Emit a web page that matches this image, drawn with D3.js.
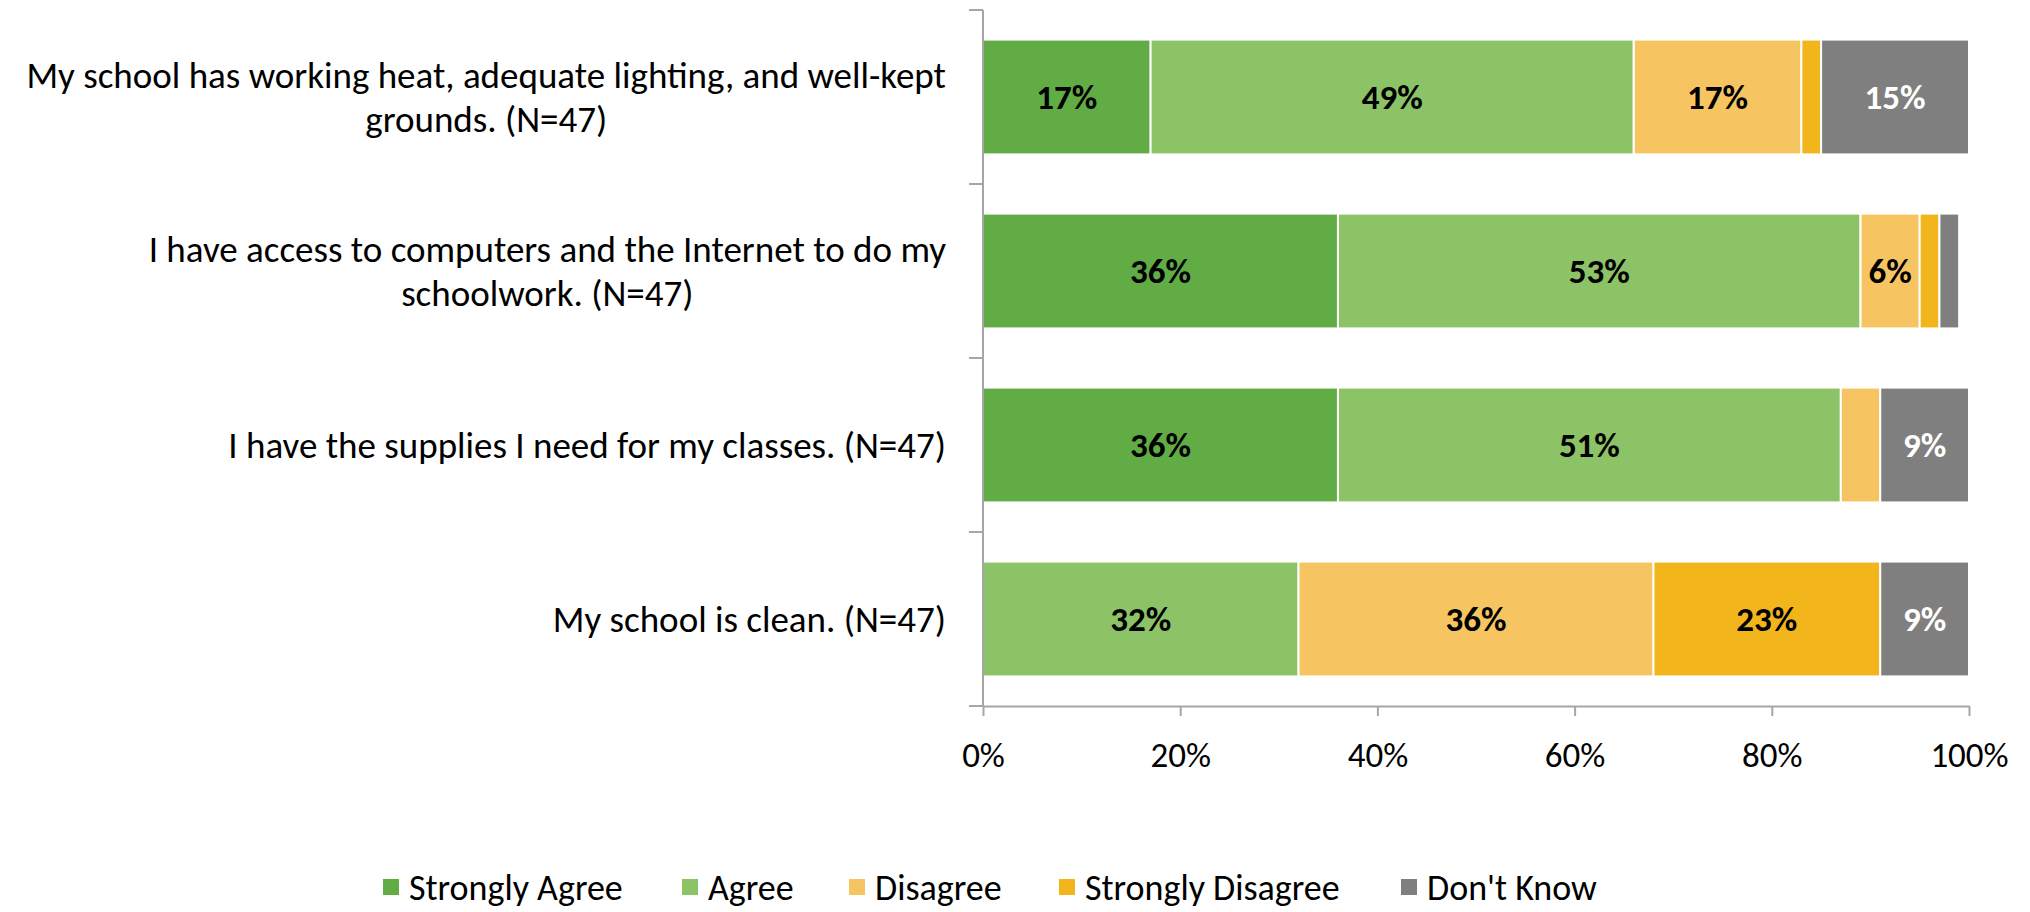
<!DOCTYPE html>
<html>
<head>
<meta charset="utf-8">
<script src="https://cdn.jsdelivr.net/npm/d3@7"></script>
<style>
  html, body { margin: 0; padding: 0; background: #fff; }
  svg { display: block; font-family: Carlito, Lato, "Open Sans", sans-serif; }
</style>
</head>
<body>
<svg id="chart" width="2030" height="912"></svg>
<script>
const categories = [
  "My school has working heat, adequate lighting, and well-kept\ngrounds. (N=47)",
  "I have access to computers and the Internet to do my\nschoolwork. (N=47)",
  "I have the supplies I need for my classes. (N=47)",
  "My school is clean. (N=47)"
];
const seriesNames = ["Strongly Agree", "Agree", "Disagree", "Strongly Disagree", "Don't Know"];
const stronglyAgree    = [17, 36, 36, 0];
const agree            = [49, 53, 51, 32];
const disagree         = [17, 6, 4, 36];
const stronglyDisagree = [2, 2, 0, 23];
const dontKnow         = [15, 2, 9, 9];
const xTicks = [0, 20, 40, 60, 80, 100];
const colors = ["#62ac46", "#8dc367", "#f6c562", "#f2b51c", "#7f7f7f"];
const labelColors = ["#000", "#000", "#000", "#000", "#fff"];

(function () {
const seriesValues = [stronglyAgree, agree, disagree, stronglyDisagree, dontKnow];
const rows = categories.map((c, i) => {
  const r = { category: c };
  seriesNames.forEach((s, j) => r[s] = seriesValues[j][i]);
  return r;
});
const stacked = d3.stack().keys(seriesNames)(rows);

const svg = d3.select("#chart");
const pLeft = 983, pRight = 1969, pTop = 10, pBottom = 706;

const x = d3.scaleLinear().domain([0, 100]).range([pLeft, pRight]);
const y = d3.scaleBand().domain(categories).range([pTop, pBottom]).paddingInner(0.34).paddingOuter(0.17);
const color = d3.scaleOrdinal().domain(seriesNames).range(colors);

// bars
const layer = svg.append("g").selectAll("g").data(stacked).join("g")
  .attr("fill", d => color(d.key));
layer.selectAll("rect").data(d => d.map(v => ({ v, key: d.key }))).join("rect")
  .attr("x", d => x(d.v[0]))
  .attr("y", d => y(d.v.data.category))
  .attr("width", d => Math.max(0, x(d.v[1]) - x(d.v[0])))
  .attr("height", y.bandwidth())
  .attr("stroke", "#fff")
  .attr("stroke-width", 2);

// data labels
stacked.forEach((s, j) => {
  svg.append("g").selectAll("text").data(s.filter(d => d[1] - d[0] >= 5)).join("text")
    .attr("x", d => x((d[0] + d[1]) / 2))
    .attr("y", d => y(d.data.category) + y.bandwidth() / 2)
    .attr("dy", "0.35em")
    .attr("text-anchor", "middle")
    .attr("font-size", 35)
    .attr("font-weight", "bold")
    .attr("fill", labelColors[j])
    .text(d => Math.round(d[1] - d[0]) + "%");
});

// x axis
const xAxis = d3.axisBottom(x).tickValues(xTicks).tickFormat(d => d + "%").tickSize(10).tickSizeOuter(0);
const gx = svg.append("g").attr("transform", `translate(0,${pBottom})`).call(xAxis);
gx.select(".domain").attr("stroke", "#a6a6a6").attr("stroke-width", 2);
gx.selectAll(".tick line").attr("stroke", "#a6a6a6").attr("stroke-width", 2);
gx.selectAll(".tick text").attr("font-size", 35).attr("font-family", "Carlito, Lato, sans-serif")
  .attr("fill", "#000").attr("y", 49).attr("dy", "0.35em");

// y axis line and boundary ticks
svg.append("line").attr("x1", pLeft).attr("x2", pLeft).attr("y1", pTop).attr("y2", pBottom)
  .attr("stroke", "#a6a6a6").attr("stroke-width", 2);
const boundaries = d3.range(categories.length + 1).map(i => pTop + i * y.step());
svg.append("g").selectAll("line").data(boundaries).join("line")
  .attr("x1", pLeft - 14).attr("x2", pLeft).attr("y1", d => d).attr("y2", d => d)
  .attr("stroke", "#a6a6a6").attr("stroke-width", 2);

// category labels
const labelX = 946;
categories.forEach(c => {
  const lines = c.split("\n");
  const lh = 44;
  const cy = y(c) + y.bandwidth() / 2;
  const g = svg.append("g");
  const texts = g.selectAll("text").data(lines).join("text")
    .attr("y", (d, i) => cy + (i - (lines.length - 1) / 2) * lh)
    .attr("dy", "0.35em")
    .attr("font-size", 37)
    .attr("fill", "#000")
    .text(d => d);
  const widths = texts.nodes().map(n => n.getComputedTextLength());
  const maxW = d3.max(widths);
  texts.attr("text-anchor", "middle").attr("x", labelX - maxW / 2);
});

// legend
const legendY = 887;
const legendX = [383, 682, 849, 1059, 1401];
const lg = svg.append("g").selectAll("g").data(seriesNames).join("g")
  .attr("transform", (d, i) => `translate(${legendX[i]},${legendY})`);
lg.append("rect").attr("x", 0).attr("y", -8).attr("width", 16).attr("height", 16).attr("fill", d => color(d));
lg.append("text").attr("x", 26).attr("dy", "0.35em").attr("font-size", 36).attr("fill", "#000").text(d => d);
})();
</script>
</body>
</html>
